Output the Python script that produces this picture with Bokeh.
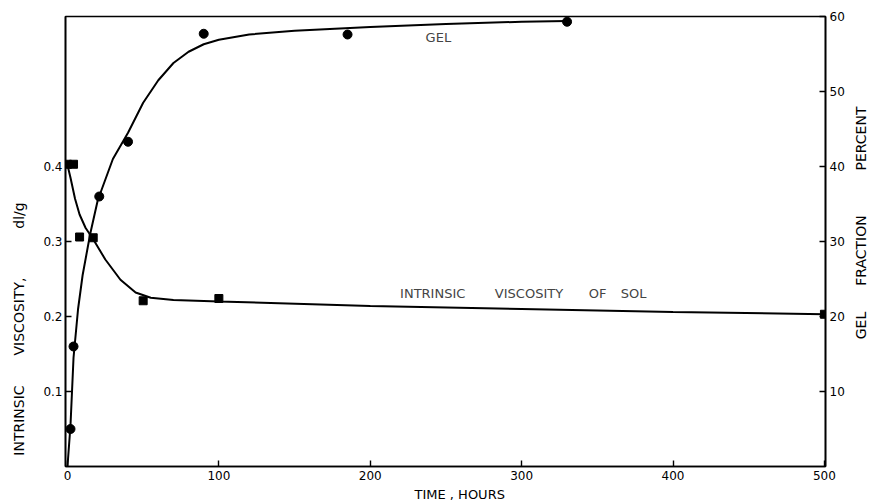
from math import pi
from bokeh.plotting import figure
from bokeh.layouts import row
from bokeh.models import Range1d, LinearAxis, FixedTicker, Label, Title
from bokeh.core.properties import value
from bokeh.embed import file_html
from bokeh.resources import INLINE

# ---- data ----
gel_t = [2, 4, 21, 40, 90, 185, 330]
gel_pct = [5.0, 16.0, 36.0, 43.3, 57.7, 57.6, 59.3]

visc_t = [0, 4, 8, 17, 50, 100, 500]
visc_val = [0.403, 0.403, 0.306, 0.305, 0.221, 0.224, 0.203]

gel_curve_t = [0, 2, 4, 7, 10, 15, 20, 30, 40, 50, 60, 70, 80, 90, 100, 120, 150, 200, 250, 300, 330]
gel_curve_pct = [0.0, 5.5, 14.5, 21.0, 25.5, 31.0, 35.5, 41.0, 44.5, 48.5, 51.5, 53.8, 55.3, 56.3, 56.9, 57.6, 58.1, 58.6, 59.0, 59.3, 59.4]

visc_curve_t = [0, 2, 5, 8, 12, 17, 25, 35, 45, 55, 70, 100, 200, 300, 400, 500]
visc_curve_val = [0.402, 0.385, 0.357, 0.336, 0.318, 0.303, 0.276, 0.249, 0.232, 0.225, 0.222, 0.220, 0.214, 0.210, 0.206, 0.203]

x_ticks = [0, 100, 200, 300, 400, 500]
left_ticks = [0.1, 0.2, 0.3, 0.4]
right_ticks = [10, 20, 30, 40, 50, 60]

sol_words = ["INTRINSIC", "VISCOSITY", "OF", "SOL"]
left_title_words = ["INTRINSIC", "VISCOSITY,", "dl/g"]
right_title_words = ["GEL", "FRACTION", "PERCENT"]
x_title = "TIME , HOURS"

# ---- layout (pixel positions, not data) ----
sol_word_t = [219.7, 282.3, 344.3, 365.4]
left_title_y = [420, 316, 215]
right_title_y = [325, 250, 138]
H = 503
TOP, BOTTOM = 16, 466
WL, WR = 32, 24
WM = 871 - WL - WR

FONT = "DejaVu Sans"

p = figure(width=WM, height=H, output_backend="svg", toolbar_location=None,
           x_range=Range1d(-1.3, 500.7), y_range=Range1d(0.0, 0.6),
           min_border_left=65 - WL, min_border_right=WM - (826 - WL),
           min_border_top=TOP, min_border_bottom=H - BOTTOM)
p.extra_y_ranges = {"gel": Range1d(0, 60)}
p.grid.visible = False
p.outline_line_color = "black"
p.outline_line_width = 1.6
p.background_fill_color = "white"
p.border_fill_color = "white"

def style_axis(ax, ticks):
    ax.ticker = FixedTicker(ticks=ticks)
    ax.major_tick_in = 6
    ax.major_tick_out = 0
    ax.minor_tick_line_color = None
    ax.axis_line_color = "black"
    ax.axis_line_width = 1.6
    ax.major_tick_line_width = 1.4
    ax.major_label_text_font = FONT
    ax.major_label_text_font_size = "12px"
    ax.major_label_text_color = "black"
    ax.major_label_standoff = 4

style_axis(p.xaxis[0], x_ticks)
style_axis(p.yaxis[0], left_ticks)
p.yaxis[0].major_label_standoff = 3

right = LinearAxis(y_range_name="gel")
style_axis(right, right_ticks)
p.add_layout(right, "right")

# curves
p.line(gel_curve_t, gel_curve_pct, y_range_name="gel", line_color="black", line_width=2)
p.line(visc_curve_t, visc_curve_val, line_color="black", line_width=2)

# points
p.scatter(gel_t, gel_pct, y_range_name="gel", marker="circle", size=9,
          fill_color="black", line_color="black")
p.scatter(visc_t, visc_val, marker="square", size=8,
          fill_color="black", line_color="black")

# in-plot labels
p.add_layout(Label(x=245, y=57.2, y_range_name="gel", text="GEL", text_align="center",
                   text_baseline="middle", text_font=FONT, text_font_size="13px"))
for w, t in zip(sol_words, sol_word_t):
    p.add_layout(Label(x=t, y=0.231, text=w, text_align="left", text_baseline="middle",
                       text_font=FONT, text_font_size="13px"))

p.add_layout(Title(text=x_title, align="left", offset=349, standoff=4,
                   text_font=FONT, text_font_size="13px", text_font_style="normal",
                   text_color="black"), "below")

# side strips holding the rotated axis titles (their frames align with the main frame)
def strip(width, words, ys, xc):
    s = figure(width=width, height=H, output_backend="svg", toolbar_location=None,
               x_range=Range1d(0, width), y_range=Range1d(BOTTOM, TOP), min_border=0)
    s.axis.visible = False
    s.grid.visible = False
    s.outline_line_color = None
    s.background_fill_color = "white"
    s.border_fill_color = "white"
    s.text(x=[xc] * len(words), y=ys, text=words, angle=pi / 2,
           text_align="center", text_baseline="middle",
           text_font=value(FONT), text_font_size="14px", text_color="black")
    return s

pl = strip(WL, left_title_words, left_title_y, 18)
pr = strip(WR, right_title_words, right_title_y, 860 - (WL + WM))

layout = row(pl, p, pr)
open("out.html", "w").write(file_html(layout, INLINE))
